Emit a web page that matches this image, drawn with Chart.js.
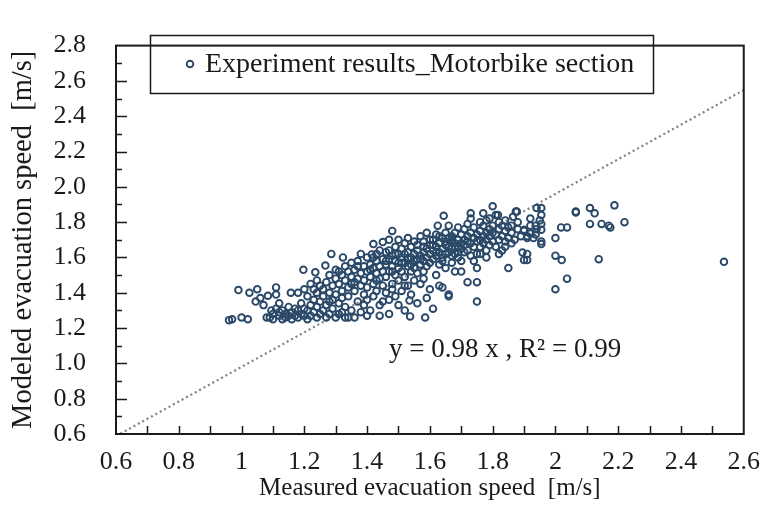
<!DOCTYPE html>
<html>
<head>
<meta charset="utf-8">
<script src="https://cdn.jsdelivr.net/npm/chart.js@4/dist/chart.umd.min.js"></script>
<style>
html, body { margin: 0; padding: 0; background: #fff; }
</style>
</head>
<body>
<canvas id="speedChart" width="773" height="511"></canvas>
<script>
// measured (x) and modeled (y) evacuation speed, m/s
const measuredSpeed = [
  0.96, 0.97, 0.99, 1.00, 1.02, 1.025, 1.045, 1.05, 1.06, 1.07, 1.08, 1.084, 1.09, 1.095, 1.10, 1.10,
  1.11, 1.11, 1.11, 1.12, 1.12, 1.13, 1.13, 1.14, 1.14, 1.15, 1.15, 1.12, 1.157, 1.16, 1.16, 1.17, 1.17, 1.18, 1.18, 1.18, 1.19, 1.19, 1.197, 1.20, 1.20, 1.20,
  1.21, 1.21, 1.21, 1.22, 1.22, 1.22, 1.23, 1.23, 1.235, 1.24, 1.24, 1.24, 1.25, 1.25, 1.25, 1.23, 1.24,
  1.26, 1.26, 1.267, 1.27, 1.27, 1.27, 1.28, 1.28, 1.28, 1.286, 1.29, 1.29, 1.29, 1.30, 1.30, 1.30, 1.30, 1.26, 1.28,
  1.31, 1.31, 1.31, 1.32, 1.32, 1.323, 1.32, 1.33, 1.33, 1.33, 1.33, 1.34, 1.34, 1.34, 1.35, 1.35, 1.35, 1.35, 1.31, 1.34, 1.32,
  1.36, 1.36, 1.36, 1.37, 1.37, 1.37, 1.38, 1.38, 1.38, 1.38, 1.39, 1.39, 1.39, 1.40, 1.40, 1.40, 1.40, 1.36, 1.37, 1.39, 1.40,
  1.41, 1.41, 1.41, 1.415, 1.42, 1.42, 1.42, 1.42, 1.43, 1.43, 1.43, 1.43, 1.44, 1.44, 1.44, 1.44, 1.45, 1.45, 1.45, 1.45, 1.45, 1.41, 1.42, 1.43, 1.44,
  1.46, 1.46, 1.46, 1.46, 1.47, 1.47, 1.47, 1.47, 1.47, 1.48, 1.48, 1.48, 1.48, 1.48, 1.49, 1.49, 1.49, 1.49, 1.50, 1.50, 1.50, 1.50, 1.50, 1.46, 1.47, 1.48, 1.49, 1.50,
  1.51, 1.51, 1.51, 1.51, 1.52, 1.52, 1.52, 1.52, 1.53, 1.53, 1.53, 1.53, 1.535, 1.537, 1.54, 1.54, 1.54, 1.54, 1.55, 1.55, 1.55, 1.55, 1.51, 1.52, 1.53, 1.54, 1.55, 1.52,
  1.56, 1.56, 1.56, 1.56, 1.57, 1.57, 1.57, 1.57, 1.58, 1.58, 1.58, 1.58, 1.585, 1.59, 1.59, 1.59, 1.59, 1.60, 1.60, 1.60, 1.60, 1.56, 1.57, 1.58, 1.59, 1.60, 1.58,
  1.61, 1.61, 1.61, 1.61, 1.62, 1.62, 1.62, 1.62, 1.625, 1.63, 1.63, 1.63, 1.63, 1.64, 1.64, 1.644, 1.64, 1.64, 1.65, 1.65, 1.65, 1.65, 1.61, 1.62, 1.63, 1.64, 1.65,
  1.66, 1.66, 1.66, 1.66, 1.66, 1.67, 1.67, 1.67, 1.67, 1.68, 1.68, 1.68, 1.68, 1.69, 1.69, 1.69, 1.69, 1.70, 1.70, 1.70, 1.70, 1.66, 1.67, 1.68, 1.69, 1.70,
  1.71, 1.71, 1.71, 1.72, 1.72, 1.72, 1.72, 1.73, 1.73, 1.73, 1.73, 1.73, 1.74, 1.74, 1.74, 1.75, 1.75, 1.75, 1.75, 1.75, 1.75, 1.71, 1.72, 1.74,
  1.76, 1.76, 1.76, 1.76, 1.77, 1.77, 1.77, 1.77, 1.78, 1.78, 1.78, 1.78, 1.79, 1.79, 1.79, 1.80, 1.80, 1.80, 1.80, 1.76, 1.78, 1.79,
  1.81, 1.81, 1.81, 1.817, 1.82, 1.82, 1.82, 1.83, 1.83, 1.83, 1.84, 1.84, 1.84, 1.85, 1.85, 1.85, 1.82, 1.84,
  1.865, 1.874, 1.877, 1.86, 1.86, 1.87, 1.88, 1.88, 1.89, 1.895, 1.90, 1.90, 1.90, 1.86,
  1.91, 1.91, 1.91, 1.91, 1.92, 1.92, 1.92, 1.937, 1.937, 1.94, 1.955, 1.955, 1.955, 1.955, 1.955, 1.955, 1.94, 1.95, 1.93,
  2.00, 2.00, 2.00, 2.018, 2.02, 2.037, 2.037, 2.065, 2.065, 2.11, 2.11, 2.125, 2.138, 2.147, 2.17, 2.175, 2.188, 2.22, 2.537
];
const modeledSpeed = [
  1.245, 1.25, 1.415, 1.26, 1.25, 1.40, 1.35, 1.42, 1.37, 1.33, 1.26, 1.383, 1.26, 1.30, 1.25, 1.28,
  1.43, 1.39, 1.31, 1.27, 1.29, 1.25, 1.30, 1.26, 1.28, 1.27, 1.32, 1.34, 1.40, 1.29, 1.25, 1.27, 1.31, 1.40, 1.30, 1.26, 1.28, 1.34, 1.53, 1.42, 1.27, 1.31,
  1.38, 1.30, 1.25, 1.33, 1.27, 1.45, 1.29, 1.36, 1.516, 1.40, 1.26, 1.32, 1.44, 1.28, 1.35, 1.42, 1.47,
  1.30, 1.38, 1.554, 1.46, 1.33, 1.26, 1.40, 1.50, 1.28, 1.62, 1.44, 1.36, 1.31, 1.48, 1.39, 1.26, 1.53, 1.42, 1.35,
  1.45, 1.34, 1.28, 1.50, 1.41, 1.60, 1.37, 1.55, 1.47, 1.26, 1.32, 1.43, 1.52, 1.38, 1.49, 1.57, 1.30, 1.45, 1.52, 1.26, 1.29,
  1.53, 1.41, 1.26, 1.48, 1.58, 1.35, 1.51, 1.44, 1.62, 1.29, 1.55, 1.47, 1.39, 1.52, 1.60, 1.43, 1.27, 1.46, 1.55, 1.33, 1.36,
  1.56, 1.49, 1.30, 1.617, 1.676, 1.54, 1.45, 1.38, 1.62, 1.51, 1.58, 1.41, 1.55, 1.48, 1.64, 1.27, 1.687, 1.59, 1.52, 1.35, 1.44, 1.53, 1.60, 1.47, 1.33,
  1.56, 1.63, 1.49, 1.40, 1.70, 1.59, 1.52, 1.28, 1.36, 1.75, 1.61, 1.55, 1.45, 1.42, 1.58, 1.66, 1.50, 1.38, 1.70, 1.62, 1.54, 1.33, 1.47, 1.58, 1.64, 1.52, 1.62, 1.57,
  1.60, 1.65, 1.52, 1.41, 1.68, 1.57, 1.49, 1.30, 1.63, 1.55, 1.71, 1.44, 1.356, 1.266, 1.60, 1.66, 1.52, 1.39, 1.58, 1.69, 1.62, 1.47, 1.57, 1.62, 1.59, 1.56, 1.54, 1.44,
  1.64, 1.59, 1.34, 1.51, 1.72, 1.61, 1.56, 1.45, 1.66, 1.63, 1.69, 1.52, 1.26, 1.60, 1.37, 1.74, 1.65, 1.62, 1.67, 1.57, 1.42, 1.67, 1.59, 1.58, 1.55, 1.70, 1.48,
  1.64, 1.31, 1.70, 1.59, 1.66, 1.73, 1.61, 1.50, 1.78, 1.63, 1.68, 1.56, 1.44, 1.65, 1.71, 1.836, 1.43, 1.60, 1.67, 1.62, 1.74, 1.54, 1.67, 1.63, 1.72, 1.58, 1.69,
  1.78, 1.38, 1.39, 1.66, 1.63, 1.70, 1.65, 1.72, 1.57, 1.68, 1.74, 1.62, 1.52, 1.66, 1.77, 1.70, 1.60, 1.52, 1.73, 1.65, 1.68, 1.71, 1.61, 1.66, 1.63, 1.58,
  1.76, 1.67, 1.70, 1.46, 1.72, 1.64, 1.79, 1.85, 1.82, 1.68, 1.74, 1.61, 1.71, 1.66, 1.77, 1.54, 1.46, 1.35, 1.69, 1.73, 1.62, 1.63, 1.69, 1.58,
  1.80, 1.70, 1.75, 1.66, 1.85, 1.72, 1.68, 1.78, 1.74, 1.64, 1.81, 1.70, 1.76, 1.67, 1.72, 1.89, 1.78, 1.69, 1.74, 1.62, 1.60, 1.82,
  1.84, 1.73, 1.66, 1.84, 1.76, 1.70, 1.80, 1.72, 1.78, 1.64, 1.75, 1.69, 1.81, 1.54, 1.77, 1.71, 1.62, 1.66,
  1.83, 1.86, 1.86, 1.74, 1.78, 1.70, 1.76, 1.80, 1.72, 1.628, 1.585, 1.757, 1.75, 1.68,
  1.72, 1.71, 1.62, 1.585, 1.82, 1.735, 1.78, 1.78, 1.73, 1.88, 1.88, 1.84, 1.79, 1.757, 1.69, 1.676, 1.76, 1.81, 1.71,
  1.71, 1.61, 1.42, 1.77, 1.585, 1.77, 1.48, 1.86, 1.855, 1.88, 1.79, 1.85, 1.59, 1.79, 1.78, 1.77, 1.895, 1.80, 1.575
];

// regression line y = 0.98 x, drawn across the x range
const fitX = [0.6, 2.6];
const fitY = [0.588, 2.548];
const fitSlope = '0.98';
const fitR2 = '0.99';

const xTickValues = [0.6, 0.8, 1.0, 1.2, 1.4, 1.6, 1.8, 2.0, 2.2, 2.4, 2.6];
const xTickLabels = ['0.6', '0.8', '1', '1.2', '1.4', '1.6', '1.8', '2', '2.2', '2.4', '2.6'];
const yTickValues = [0.6, 0.8, 1.0, 1.2, 1.4, 1.6, 1.8, 2.0, 2.2, 2.4, 2.6, 2.8];
const yTickLabels = ['0.6', '0.8', '1.0', '1.2', '1.4', '1.6', '1.8', '2.0', '2.2', '2.4', '2.6', '2.8'];

const serif = "'Liberation Serif', 'Times New Roman', serif";
const ink = '#1a1a1a';
const markColor = '#2a4868';

// frame, inward ticks, boxed legend and the equation text
const framePlugin = {
  id: 'frame',
  afterDraw(chart) {
    const { ctx, chartArea: a, scales: { x, y } } = chart;
    ctx.save();
    ctx.strokeStyle = ink;
    ctx.lineWidth = 2;
    ctx.strokeRect(a.left, a.top, a.right - a.left, a.bottom - a.top);

    ctx.lineWidth = 1.5;
    ctx.beginPath();
    for (let k = 1; k < 20; k++) {
      const px = Math.round(x.getPixelForValue(0.6 + k * 0.1)) + 0.5;
      ctx.moveTo(px, a.bottom);
      ctx.lineTo(px, a.bottom - 8);
    }
    for (let k = 1; k < 22; k++) {
      const py = Math.round(y.getPixelForValue(0.6 + k * 0.1)) + 0.5;
      ctx.moveTo(a.left, py);
      ctx.lineTo(a.left + (k % 2 === 0 ? 11 : 6), py);
    }
    ctx.stroke();

    // legend box
    const ds = chart.data.datasets[0];
    ctx.lineWidth = 1.5;
    ctx.strokeRect(150.5, 35.5, 503, 58);
    ctx.beginPath();
    ctx.arc(190, 64, ds.pointRadius, 0, Math.PI * 2);
    ctx.strokeStyle = ds.borderColor;
    ctx.lineWidth = ds.pointBorderWidth;
    ctx.stroke();
    ctx.fillStyle = ink;
    ctx.font = '28px ' + serif;
    ctx.textBaseline = 'middle';
    ctx.textAlign = 'left';
    ctx.fillText(ds.label, 205, 65);

    // equation
    ctx.font = '27px ' + serif;
    ctx.fillText('y = ' + fitSlope + ' x , R\u00B2 = ' + fitR2,
      x.getPixelForValue(1.47), y.getPixelForValue(1.075));
    ctx.restore();
  }
};

new Chart(document.getElementById('speedChart'), {
  type: 'scatter',
  data: {
    datasets: [{
      label: 'Experiment results_Motorbike section',
      data: measuredSpeed.map((v, i) => ({ x: v, y: modeledSpeed[i] })),
      borderColor: markColor,
      backgroundColor: 'rgba(0,0,0,0)',
      pointRadius: 3.3,
      pointBorderWidth: 1.9,
      order: 1
    }, {
      type: 'line',
      label: 'fit',
      data: fitX.map((v, i) => ({ x: v, y: fitY[i] })),
      borderColor: '#808080',
      borderWidth: 2.2,
      borderDash: [2, 3],
      pointRadius: 0,
      fill: false,
      order: 2
    }]
  },
  options: {
    responsive: false,
    animation: false,
    events: [],
    layout: { padding: { top: 21, right: 21, left: 0, bottom: 0 } },
    plugins: { legend: { display: false }, tooltip: { enabled: false } },
    scales: {
      x: {
        type: 'linear',
        min: 0.6,
        max: 2.6,
        afterBuildTicks: s => { s.ticks = xTickValues.map(v => ({ value: v })); },
        afterFit: s => { s.height = 77; },
        ticks: {
          callback: (v, i) => xTickLabels[i],
          font: { family: serif, size: 26 },
          color: ink,
          padding: 13,
          maxRotation: 0,
          autoSkip: false
        },
        grid: { display: false, drawTicks: false },
        border: { display: false },
        title: {
          display: true,
          text: 'Measured evacuation speed  [m/s]',
          font: { family: serif, size: 25 },
          color: ink,
          padding: 8
        }
      },
      y: {
        type: 'linear',
        min: 0.6,
        max: 2.8,
        afterBuildTicks: s => { s.ticks = yTickValues.map(v => ({ value: v })); },
        afterFit: s => { s.width = 116; },
        ticks: {
          callback: (v, i) => yTickLabels[i],
          font: { family: serif, size: 26 },
          color: ink,
          padding: 30,
          autoSkip: false
        },
        grid: { display: false, drawTicks: false },
        border: { display: false },
        title: {
          display: true,
          text: 'Modeled evacuation speed  [m/s]',
          font: { family: serif, size: 28.5 },
          color: ink,
          padding: 6
        }
      }
    }
  },
  plugins: [framePlugin]
});
</script>
</body>
</html>
